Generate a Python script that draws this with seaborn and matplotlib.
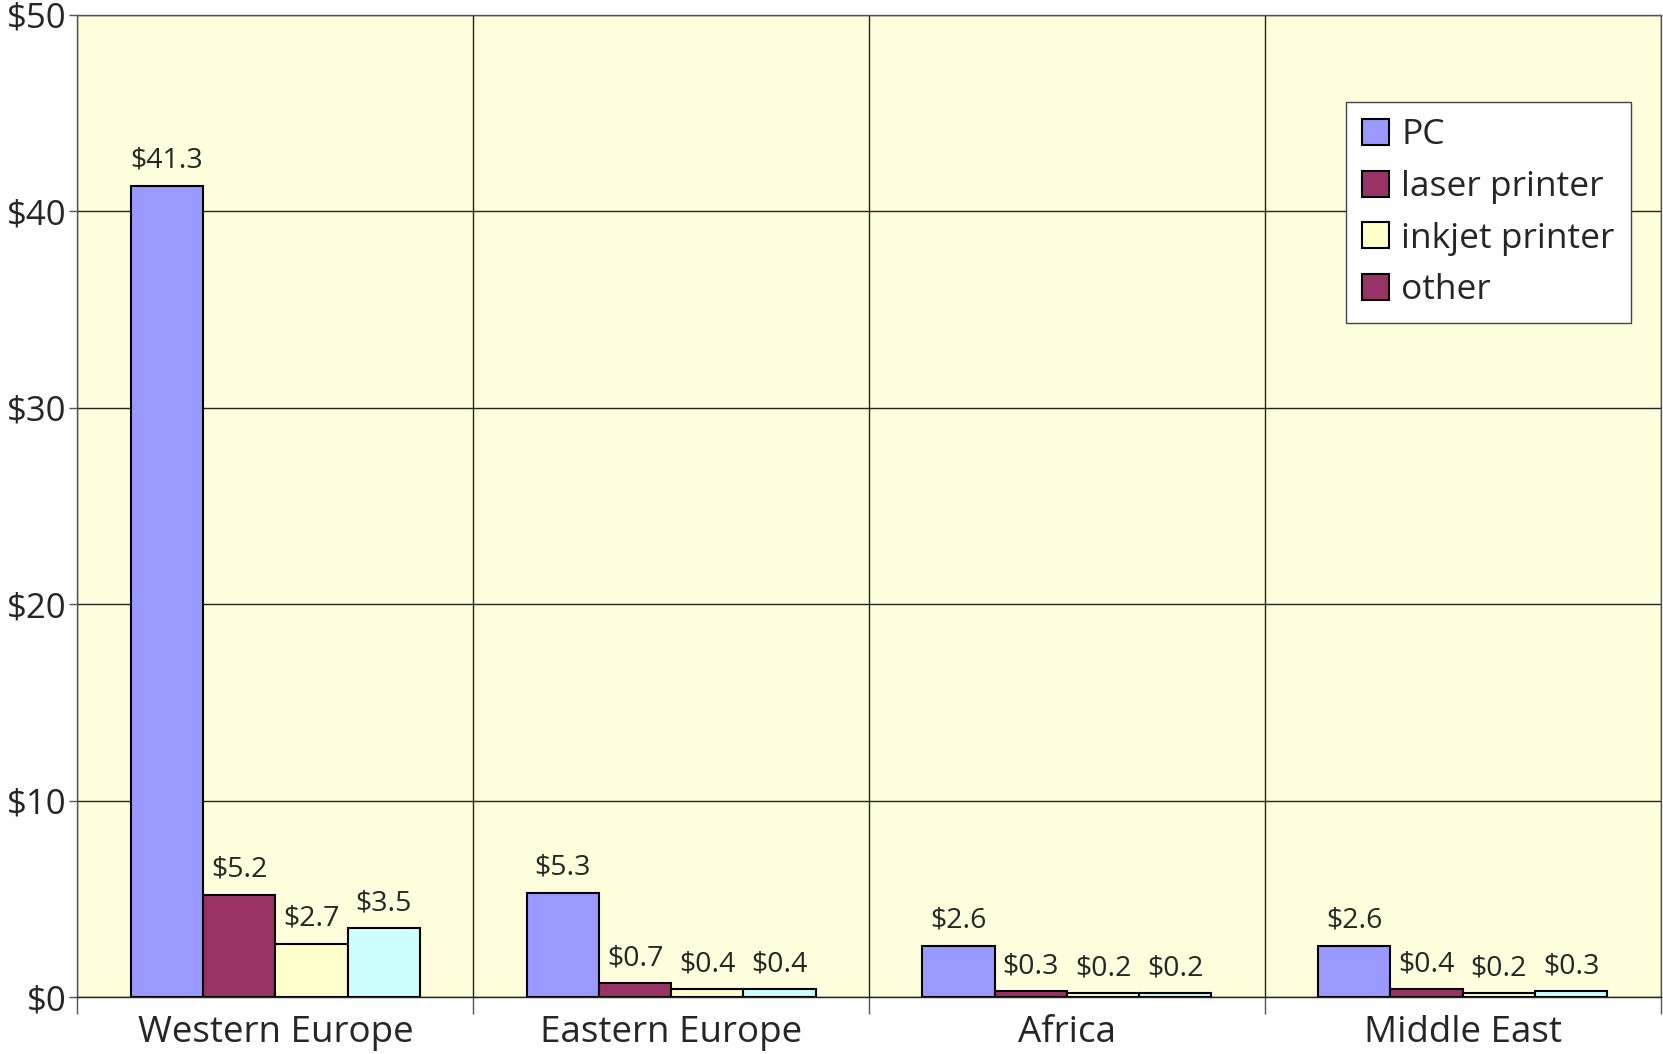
import pandas as pd
import matplotlib.pyplot as plt
import seaborn as sns
from matplotlib.patches import Patch

regions = ["Western Europe", "Eastern Europe", "Africa", "Middle East"]
products = ["PC", "laser printer", "inkjet printer", "other"]
pc = [41.3, 5.3, 2.6, 2.6]
laser = [5.2, 0.7, 0.3, 0.4]
inkjet = [2.7, 0.4, 0.2, 0.2]
other = [3.5, 0.4, 0.2, 0.3]
colors = ["#9999FF", "#993366", "#FFFFCC", "#CCFFFF"]
# the legend in the original shows the laser colour for "other"
legend_colors = ["#9999FF", "#993366", "#FFFFCC", "#993366"]

rows = []
for series, vals in zip(products, [pc, laser, inkjet, other]):
    for reg, v in zip(regions, vals):
        rows.append({"region": reg, "product": series, "value": v})
df = pd.DataFrame(rows)

sns.set_style("white")
plt.rcParams["font.family"] = ["Open Sans", "DejaVu Sans"]

fig, ax = plt.subplots(figsize=(16.63, 10.54), dpi=100)
fig.subplots_adjust(left=0.0466, right=0.9985, top=0.9858, bottom=0.054)
ax.set_facecolor("#FFFFDD")

sns.barplot(data=df, x="region", y="value", hue="product", order=regions,
            hue_order=products, palette=colors, width=0.73, gap=0,
            edgecolor="black", linewidth=1.5, saturation=1, ax=ax, legend=False)

for cont in ax.containers:
    ax.bar_label(cont, fmt="${:.1f}", padding=8, fontsize=20.5)

ax.set_ylim(0, 50)
ax.set_xlim(-0.5, 3.5)
ax.set_yticks(range(0, 51, 10))
ax.set_yticklabels(["$" + str(t) for t in range(0, 51, 10)], fontsize=25)
ax.tick_params(axis="y", left=True, length=6, width=1, color="#555555", pad=2)
ax.tick_params(axis="x", which="major", length=0, labelsize=26.5, pad=13)
ax.set_xticks([-0.5, 0.5, 1.5, 2.5, 3.5], minor=True)
ax.tick_params(axis="x", which="minor", bottom=True, length=12, width=1, color="#555555")
ax.grid(axis="y", color="#222222", linewidth=1)
ax.grid(axis="x", which="minor", color="#222222", linewidth=1)
ax.set_axisbelow(True)
for s in ax.spines.values():
    s.set_color("#555555")
    s.set_linewidth(1)
ax.spines["bottom"].set_color("#222222")
ax.set_xlabel("")
ax.set_ylabel("")

handles = [Patch(facecolor=c, edgecolor="black", linewidth=1.5) for c in legend_colors]
leg = ax.legend(handles, products, loc="upper left", bbox_to_anchor=(0.8016, 0.911),
                fontsize=25.5, frameon=True, fancybox=False, framealpha=1,
                edgecolor="#444444", handlelength=0.75, handleheight=0.75,
                handletextpad=0.35, labelspacing=0.5, borderpad=0.45,
                borderaxespad=0)
leg.get_frame().set_linewidth(1)

plt.savefig("out.png", dpi=100)
